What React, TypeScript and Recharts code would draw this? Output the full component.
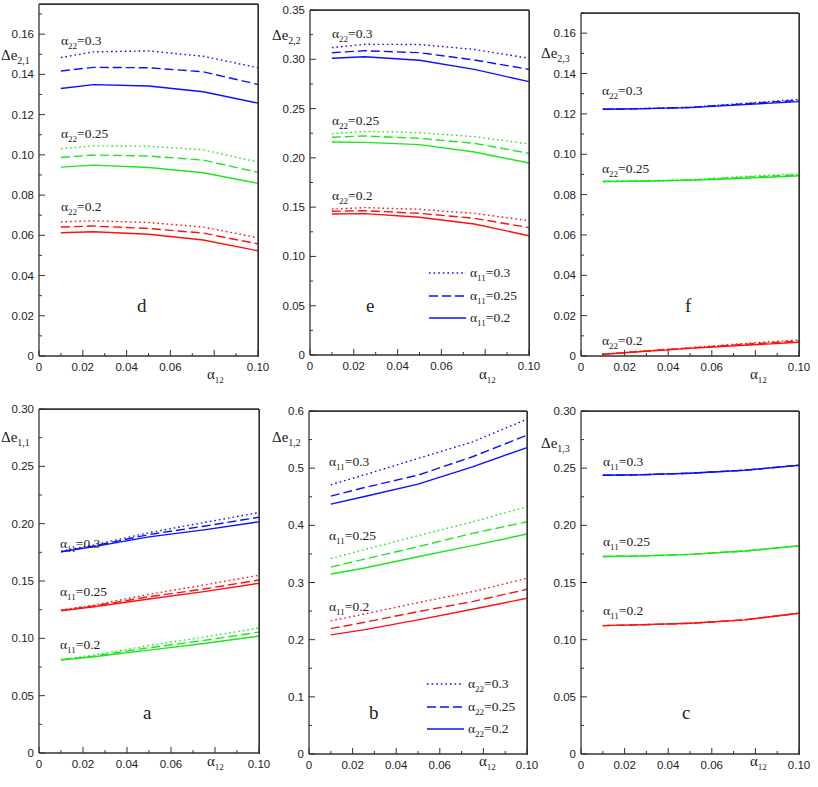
import React from 'react';
import { LineChart, Line, XAxis, YAxis, ReferenceLine } from 'recharts';

// sample points along alpha12
const X = [0.01, 0.025, 0.05, 0.075, 0.1];

// panel d: delta e(2,1)  [dotted, dashed, solid]
const dBlue = [[0.1484, 0.1512, 0.1517, 0.149, 0.1433], [0.1417, 0.1435, 0.1433, 0.1413, 0.135], [0.133, 0.1349, 0.1342, 0.1314, 0.1257]];
const dGreen = [[0.103, 0.1045, 0.1043, 0.1025, 0.0964], [0.0987, 0.0999, 0.0994, 0.0974, 0.0913], [0.0939, 0.0949, 0.0937, 0.0911, 0.0858]];
const dRed = [[0.0667, 0.0672, 0.0664, 0.0641, 0.0588], [0.0641, 0.0646, 0.0634, 0.0611, 0.0557], [0.0613, 0.0618, 0.0605, 0.0577, 0.0523]];

// panel e: delta e(2,2)
const eBlue = [[0.3118, 0.3152, 0.315, 0.31, 0.301], [0.3067, 0.3087, 0.3067, 0.2993, 0.2898], [0.301, 0.3026, 0.299, 0.2898, 0.2773]];
const eGreen = [[0.2245, 0.2269, 0.2255, 0.2215, 0.2141], [0.2209, 0.2222, 0.2198, 0.2148, 0.2046], [0.2161, 0.2157, 0.2134, 0.2059, 0.1948]];
const eRed = [[0.148, 0.1495, 0.1478, 0.1437, 0.1363], [0.1458, 0.1464, 0.1437, 0.1387, 0.1292], [0.143, 0.1434, 0.1397, 0.1329, 0.121]];

// panel f: delta e(2,3)
const fBlue = [[0.1223, 0.1226, 0.1233, 0.1252, 0.1272], [0.1223, 0.1225, 0.1232, 0.125, 0.1267], [0.1223, 0.1225, 0.1231, 0.1246, 0.1261]];
const fGreen = [[0.0865, 0.0867, 0.0873, 0.089, 0.0903], [0.0865, 0.0866, 0.0872, 0.0886, 0.0898], [0.0865, 0.0866, 0.0871, 0.0881, 0.0893]];
const fRed = [[0.0009, 0.0022, 0.0041, 0.0062, 0.008], [0.0008, 0.0021, 0.004, 0.0058, 0.0074], [0.0008, 0.002, 0.0038, 0.0053, 0.0068]];

// panel a: delta e(1,1)
const aBlue = [[0.176, 0.1815, 0.1922, 0.201, 0.2097], [0.1755, 0.1806, 0.1905, 0.1978, 0.2056], [0.1754, 0.18, 0.1885, 0.1946, 0.2016]];
const aRed = [[0.1247, 0.129, 0.1384, 0.1465, 0.155], [0.1244, 0.1282, 0.1363, 0.143, 0.1509], [0.1241, 0.1276, 0.1343, 0.1407, 0.148]];
const aGreen = [[0.0816, 0.0853, 0.0938, 0.1011, 0.109], [0.0813, 0.0845, 0.0918, 0.0982, 0.1054], [0.081, 0.0839, 0.0897, 0.0955, 0.102]];

// panel b: delta e(1,2)
const bBlue = [[0.4709, 0.4878, 0.517, 0.546, 0.5856], [0.451, 0.4657, 0.4878, 0.52, 0.5576], [0.4371, 0.45, 0.472, 0.5023, 0.536]];
const bGreen = [[0.342, 0.357, 0.382, 0.406, 0.4325], [0.327, 0.3405, 0.3626, 0.386, 0.4063], [0.3149, 0.325, 0.345, 0.3644, 0.3848]];
const bRed = [[0.2328, 0.2445, 0.2648, 0.284, 0.3073], [0.2194, 0.23, 0.2491, 0.2666, 0.2881], [0.2084, 0.2171, 0.2346, 0.2532, 0.2724]];

// panel c: delta e(1,3) -- the three line styles coincide
const cBlue = [[0.2438, 0.2441, 0.2456, 0.2482, 0.2525], [0.2438, 0.2441, 0.2456, 0.2482, 0.2525], [0.2438, 0.2441, 0.2456, 0.2482, 0.2525]];
const cGreen = [[0.1728, 0.1731, 0.1746, 0.1775, 0.1821], [0.1728, 0.1731, 0.1746, 0.1775, 0.1821], [0.1728, 0.1731, 0.1746, 0.1775, 0.1821]];
const cRed = [[0.1123, 0.1129, 0.1143, 0.1173, 0.1231], [0.1123, 0.1129, 0.1143, 0.1173, 0.1231], [0.1123, 0.1129, 0.1143, 0.1173, 0.1231]];

// x tick labels shown (0.08 is replaced by the axis title)
const X_LABELS = [0, 0.02, 0.04, 0.06, 0.1];

const BLUE = '#0a10ff';
const GREEN = '#1ee61e';
const RED = '#ff1010';
const FRAME = '#333';
const DASHES = ['1.6 3', '9 4', undefined];

const SERIF = '"Liberation Serif", "Times New Roman", serif';
const SANS = '"Liberation Sans", Arial, sans-serif';

const YW = 39; // y axis width
const MT = 10;
const MR = 14;
const XH = 22;
const MB = 4;

function steps(max: number, step: number) {
  const out: number[] = [];
  for (let i = 0; i * step <= max + 1e-9; i++) out.push(Math.round(i * step * 10000) / 10000);
  return out;
}

function isMajor(v: number, major: number) {
  const r = v / major;
  return Math.abs(r - Math.round(r)) < 1e-6;
}

function fmt(v: number, dec: number) {
  return v === 0 ? '0' : v.toFixed(dec);
}

interface PanelProps {
  x1: number;
  x2: number;
  y1: number;
  y2: number;
  yMax: number;
  major: number;
  minor: number;
  dec: number;
  groups: { color: string; vals: number[][] }[];
}

function Panel({ x1, x2, y1, y2, yMax, major, minor, dec, groups }: PanelProps) {
  const pw = x2 - x1;
  const ph = y2 - y1;
  const width = pw + YW + MR;
  const height = ph + MT + XH + MB;
  const bottom = MT + ph;

  const rows = X.map((x, i) => {
    const r: Record<string, number> = { x };
    groups.forEach((g, gi) => g.vals.forEach((s, si) => (r[`g${gi}s${si}`] = s[i])));
    return r;
  });

  const YTick = (p: any) => {
    const v = p.payload.value;
    const mj = isMajor(v, major);
    return (
      <g>
        <line x1={YW} x2={YW + (mj ? 6 : 3)} y1={p.y} y2={p.y} stroke="#333" />
        {mj && (
          <text x={YW - 5} y={p.y} dy={4} textAnchor="end" fontSize={11.5} fontFamily={SANS} fill="#222">
            {fmt(v, dec)}
          </text>
        )}
      </g>
    );
  };

  const XTick = (p: any) => {
    const v = p.payload.value;
    const mj = isMajor(v, 0.02);
    const show = X_LABELS.some((l) => Math.abs(l - v) < 1e-6);
    return (
      <g>
        <line x1={p.x} x2={p.x} y1={bottom} y2={bottom - (mj ? 6 : 3)} stroke="#333" />
        {show && (
          <text x={p.x} y={bottom + 15} textAnchor="middle" fontSize={11.5} fontFamily={SANS} fill="#222">
            {fmt(v, 2)}
          </text>
        )}
      </g>
    );
  };

  const frame = { stroke: FRAME, strokeWidth: 1.3, ifOverflow: 'visible' as const };

  return (
    <div style={{ position: 'absolute', left: x1 - YW, top: y1 - MT, width, height }}>
      <LineChart width={width} height={height} data={rows} margin={{ top: MT, right: MR, left: 0, bottom: MB }}>
        <XAxis
          dataKey="x"
          type="number"
          domain={[0, 0.1]}
          ticks={steps(0.1, 0.01)}
          tick={XTick}
          tickLine={false}
          axisLine={{ stroke: FRAME, strokeWidth: 1.3 }}
          height={XH}
          interval={0}
        />
        <YAxis
          type="number"
          domain={[0, yMax]}
          ticks={steps(yMax, minor)}
          tick={YTick}
          tickLine={false}
          axisLine={{ stroke: FRAME, strokeWidth: 1.3 }}
          width={YW}
          interval={0}
          allowDataOverflow
        />
        {groups.flatMap((g, gi) =>
          g.vals.map((_, si) => (
            <Line
              key={`g${gi}s${si}`}
              dataKey={`g${gi}s${si}`}
              type="linear"
              stroke={g.color}
              strokeWidth={1.4}
              strokeDasharray={DASHES[si]}
              dot={false}
              isAnimationActive={false}
            />
          ))
        )}
        <ReferenceLine x={0.1} {...frame} />
        <ReferenceLine y={yMax} {...frame} />
      </LineChart>
      {/* plot frame */}
      <div
        style={{
          position: 'absolute',
          left: YW,
          top: MT,
          width: pw + 1,
          height: ph + 1,
          borderTop: `1px solid ${FRAME}`,
          borderRight: `1px solid ${FRAME}`,
          boxSizing: 'border-box',
          pointerEvents: 'none',
          zIndex: 2,
        }}
      />
    </div>
  );
}

function Note({ x, y, size = 13.5, children }: { x: number; y: number; size?: number; children: React.ReactNode }) {
  return (
    <div
      style={{
        position: 'absolute',
        left: x,
        top: y,
        transform: 'translateY(-50%)',
        fontFamily: SERIF,
        fontSize: size,
        lineHeight: 1,
        whiteSpace: 'nowrap',
        color: '#222',
        zIndex: 3,
      }}
    >
      {children}
    </div>
  );
}

const Sub = ({ children, size = 9 }: { children: React.ReactNode; size?: number }) => (
  <span style={{ fontSize: size, position: 'relative', top: 4 }}>{children}</span>
);

function Alpha({ x, y, idx, val }: { x: number; y: number; idx: string; val: string }) {
  return (
    <Note x={x} y={y}>
      α<Sub>{idx}</Sub>={val}
    </Note>
  );
}

function DeltaE({ x, y, idx }: { x: number; y: number; idx: string }) {
  return (
    <Note x={x} y={y} size={15}>
      Δe<Sub size={10}>{idx}</Sub>
    </Note>
  );
}

function LegendBox({ x, y, idx }: { x: number; y: number; idx: string }) {
  const items = ['0.3', '0.25', '0.2'];
  return (
    <>
      {items.map((v, i) => (
        <div key={v} style={{ position: 'absolute', left: x, top: y + i * 22.5 - 6, zIndex: 3 }}>
          <svg width={40} height={12} style={{ display: 'block' }}>
            <line x1={1} x2={38} y1={6} y2={6} stroke={BLUE} strokeWidth={1.4} strokeDasharray={DASHES[i]} />
          </svg>
        </div>
      ))}
      {items.map((v, i) => (
        <Alpha key={v} x={x + 42} y={y + i * 22.5} idx={idx} val={v} />
      ))}
    </>
  );
}

export default function App() {
  return (
    <div style={{ position: 'absolute', left: 0, top: 0, width: 818, height: 787, background: '#fff' }}>
      <Panel x1={39} x2={258} y1={4} y2={356} yMax={0.175} major={0.02} minor={0.01} dec={2}
        groups={[{ color: BLUE, vals: dBlue }, { color: GREEN, vals: dGreen }, { color: RED, vals: dRed }]} />
      <Panel x1={310} x2={529} y1={10} y2={355} yMax={0.35} major={0.05} minor={0.025} dec={2}
        groups={[{ color: BLUE, vals: eBlue }, { color: GREEN, vals: eGreen }, { color: RED, vals: eRed }]} />
      <Panel x1={581} x2={799} y1={13} y2={356} yMax={0.17} major={0.02} minor={0.01} dec={2}
        groups={[{ color: BLUE, vals: fBlue }, { color: GREEN, vals: fGreen }, { color: RED, vals: fRed }]} />
      <Panel x1={39} x2={259} y1={409} y2={753} yMax={0.3} major={0.05} minor={0.025} dec={2}
        groups={[{ color: BLUE, vals: aBlue }, { color: RED, vals: aRed }, { color: GREEN, vals: aGreen }]} />
      <Panel x1={309} x2={527} y1={411} y2={754} yMax={0.6} major={0.1} minor={0.05} dec={1}
        groups={[{ color: BLUE, vals: bBlue }, { color: GREEN, vals: bGreen }, { color: RED, vals: bRed }]} />
      <Panel x1={581} x2={799} y1={411} y2={754} yMax={0.3} major={0.05} minor={0.025} dec={2}
        groups={[{ color: BLUE, vals: cBlue }, { color: GREEN, vals: cGreen }, { color: RED, vals: cRed }]} />

      {/* panel d */}
      <DeltaE x={1} y={55} idx="2,1" />
      <Alpha x={61} y={41} idx="22" val="0.3" />
      <Alpha x={61} y={134} idx="22" val="0.25" />
      <Alpha x={61} y={207} idx="22" val="0.2" />
      <Note x={137} y={305} size={19}>d</Note>
      <Note x={207} y={374} size={15}>α<Sub>12</Sub></Note>

      {/* panel e */}
      <DeltaE x={272} y={35} idx="2,2" />
      <Alpha x={332} y={34} idx="22" val="0.3" />
      <Alpha x={332} y={121} idx="22" val="0.25" />
      <Alpha x={332} y={196} idx="22" val="0.2" />
      <LegendBox x={428} y={273} idx="11" />
      <Note x={366} y={305} size={19}>e</Note>
      <Note x={479} y={374} size={15}>α<Sub>12</Sub></Note>

      {/* panel f */}
      <DeltaE x={541} y={53} idx="2,3" />
      <Alpha x={602} y={91} idx="22" val="0.3" />
      <Alpha x={602} y={169} idx="22" val="0.25" />
      <Alpha x={602} y={341} idx="22" val="0.2" />
      <Note x={685} y={305} size={19}>f</Note>
      <Note x={750} y={374} size={15}>α<Sub>12</Sub></Note>

      {/* panel a */}
      <DeltaE x={1} y={437} idx="1,1" />
      <Alpha x={60} y={544} idx="11" val="0.3" />
      <Alpha x={60} y={592} idx="11" val="0.25" />
      <Alpha x={60} y={645} idx="11" val="0.2" />
      <Note x={143} y={712} size={19}>a</Note>
      <Note x={207} y={761} size={15}>α<Sub>12</Sub></Note>

      {/* panel b */}
      <DeltaE x={272} y={437} idx="1,2" />
      <Alpha x={329} y={462} idx="11" val="0.3" />
      <Alpha x={329} y={536} idx="11" val="0.25" />
      <Alpha x={329} y={607} idx="11" val="0.2" />
      <LegendBox x={426} y={684} idx="22" />
      <Note x={369} y={712} size={19}>b</Note>
      <Note x={479} y={761} size={15}>α<Sub>12</Sub></Note>

      {/* panel c */}
      <DeltaE x={541} y={443} idx="1,3" />
      <Alpha x={603} y={462} idx="11" val="0.3" />
      <Alpha x={603} y={542} idx="11" val="0.25" />
      <Alpha x={603} y={611} idx="11" val="0.2" />
      <Note x={682} y={712} size={19}>c</Note>
      <Note x={750} y={761} size={15}>α<Sub>12</Sub></Note>
    </div>
  );
}
